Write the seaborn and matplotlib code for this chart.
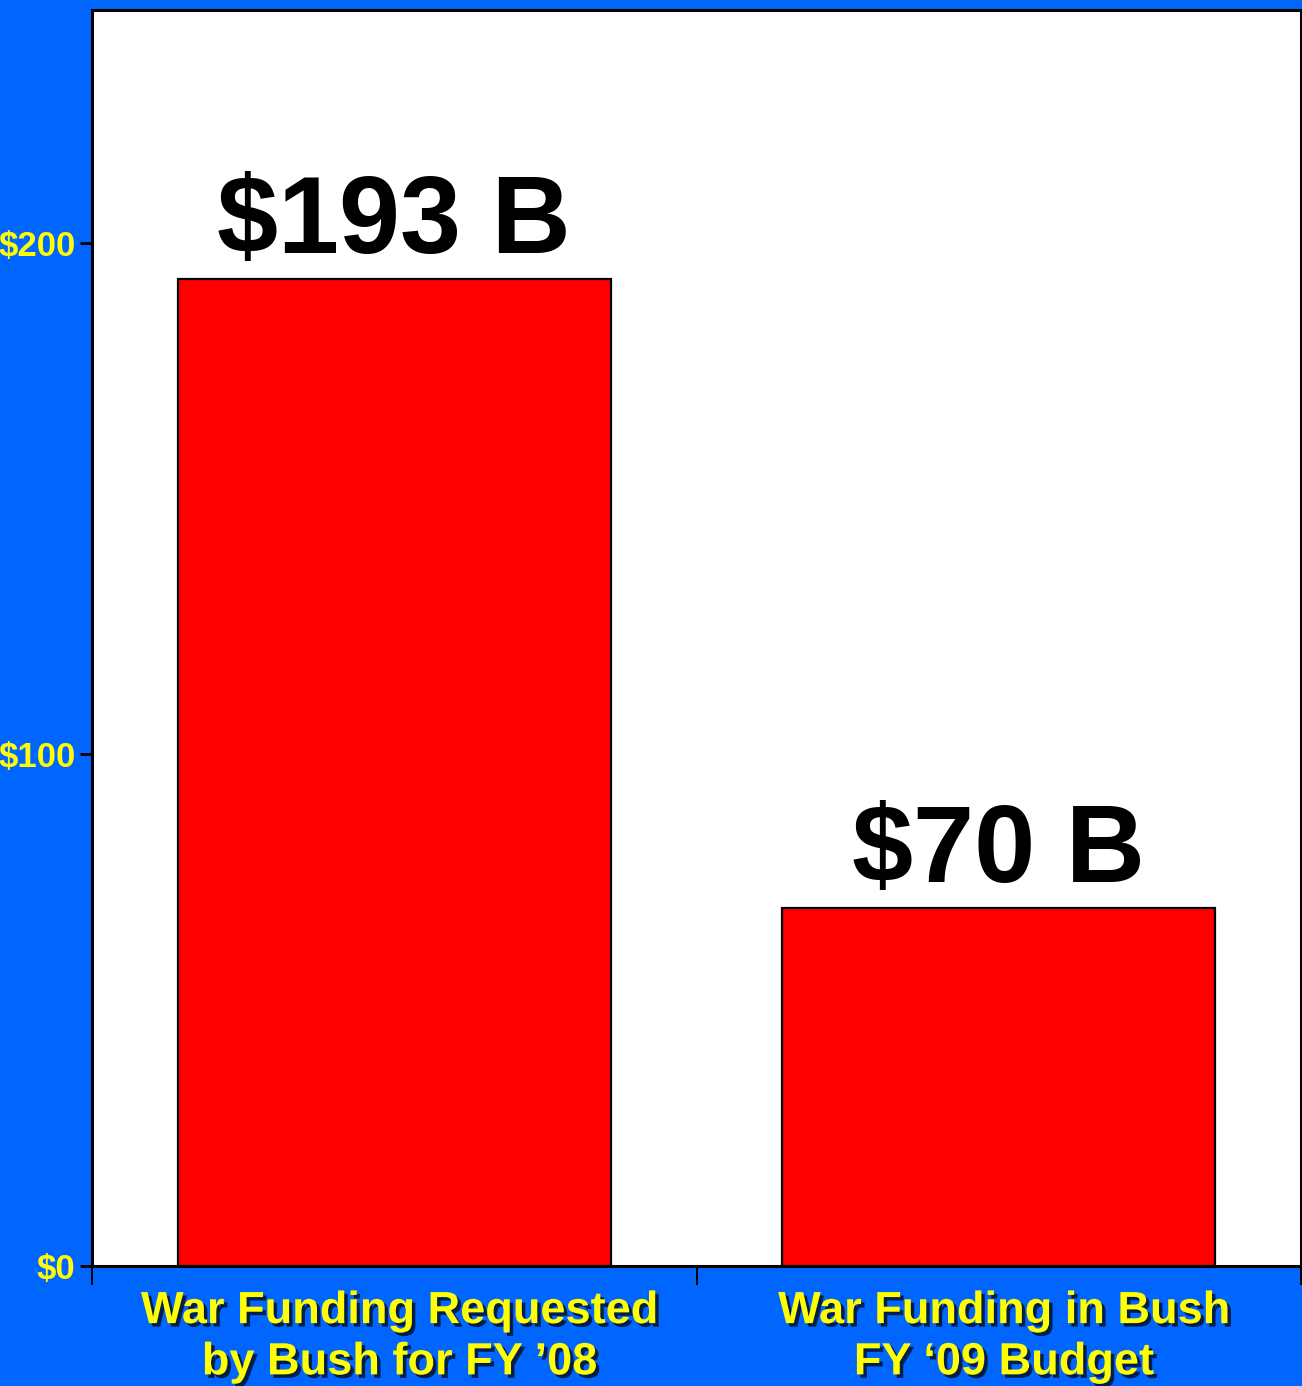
import matplotlib

matplotlib.use("Agg")

import matplotlib.patheffects as pe
import matplotlib.pyplot as plt
import matplotlib.transforms as mtransforms
import pandas as pd
import seaborn as sns
from matplotlib.ticker import FuncFormatter

CATEGORIES = ["War Funding Requested\nby Bush for FY \u201908", "War Funding in Bush\nFY \u201809 Budget"]
VALUES = [193, 70]
BAR_LABELS = ["$193 B", "$70 B"]
Y_TICKS = [0, 100, 200]

BG_BLUE = "#0066FF"
BAR_RED = "#FF0000"
LABEL_YELLOW = "#FFFF00"


def main() -> None:
    sns.set_theme(style="white")
    plt.rcParams["font.family"] = ["Liberation Sans", "DejaVu Sans"]

    df = pd.DataFrame({"category": CATEGORIES, "value": VALUES})

    fig = plt.figure(figsize=(13.02, 13.86), dpi=100, facecolor=BG_BLUE)
    ax = fig.add_axes([92 / 1302, 1 - 1266 / 1386, 1209 / 1302, 1256 / 1386])
    ax.set_facecolor("white")

    sns.barplot(data=df, x="category", y="value", color=BAR_RED, saturation=1,
                width=0.716, edgecolor="black", linewidth=1.6, ax=ax)

    ax.set_xlim(-0.5, 1.5)
    ax.set_ylim(0, 245.5)
    ax.set_xlabel("")
    ax.set_ylabel("")

    for spine in ax.spines.values():
        spine.set_visible(True)
        spine.set_color("black")
        spine.set_linewidth(2.2)

    # value labels above bars
    for container in ax.containers:
        ax.bar_label(container, labels=BAR_LABELS, padding=2, fontsize=79,
                     fontweight="bold", color="black", family=["Liberation Sans", "DejaVu Sans"])

    # y axis: yellow dollar ticks
    ax.set_yticks(Y_TICKS)
    ax.yaxis.set_major_formatter(FuncFormatter(lambda v, _: f"${int(v)}"))
    ax.tick_params(axis="y", direction="out", length=9, width=2, color="black",
                   labelsize=25, labelcolor=LABEL_YELLOW, pad=3, left=True)
    for lbl in ax.get_yticklabels():
        lbl.set_family(["Liberation Sans Narrow", "Liberation Sans", "DejaVu Sans"])
        lbl.set_fontweight("bold")

    # x axis: category separators as ticks, labels centred on bars
    ax.set_xticks([-0.5, 0.5, 1.5])
    ax.set_xticklabels(["", "", ""])
    ax.tick_params(axis="x", direction="out", length=14, width=1.4, color="black", bottom=True)
    shadow = [pe.withSimplePatchShadow(offset=(2.5, -2.5), shadow_rgbFace="black", alpha=0.7)]
    nudge = mtransforms.ScaledTranslation(5 / 100, 0, fig.dpi_scale_trans)
    for idx, cat in enumerate(CATEGORIES):
        ax.text(idx, -0.02, cat, transform=ax.get_xaxis_transform() + nudge, ha="center", va="top",
                fontsize=32.5, fontweight="bold", color=LABEL_YELLOW, linespacing=1.32,
                path_effects=shadow)

    fig.savefig("out.png", dpi=100, facecolor=BG_BLUE)
    plt.close(fig)


if __name__ == "__main__":
    main()
